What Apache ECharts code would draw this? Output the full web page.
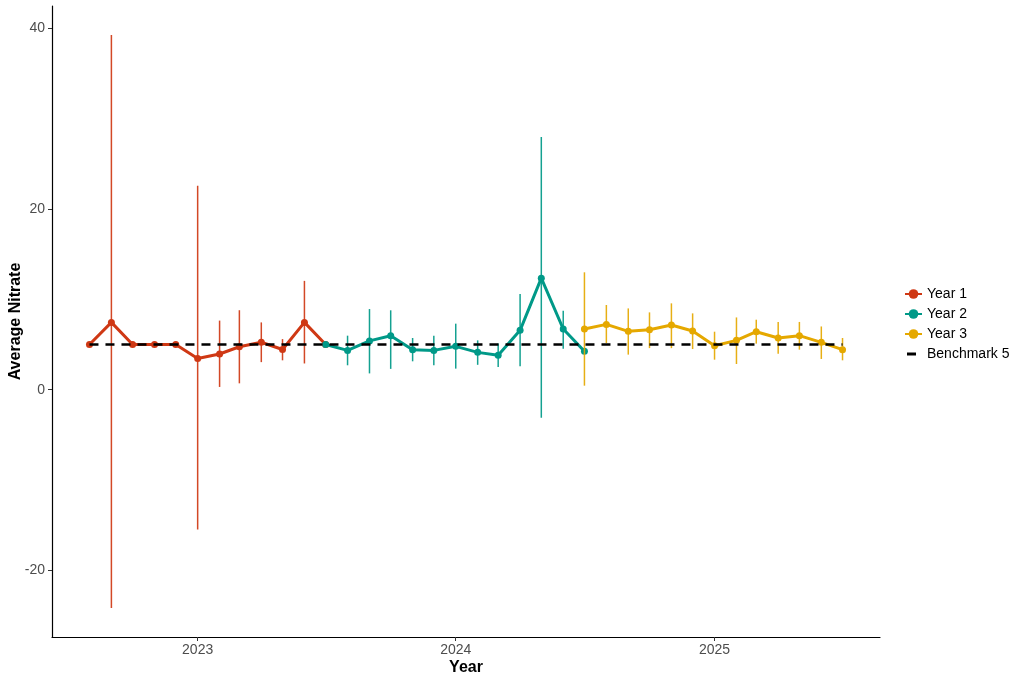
<!DOCTYPE html>
<html>
<head>
<meta charset="utf-8">
<script src="https://cdn.jsdelivr.net/npm/echarts@6/dist/echarts.min.js"></script>
<style>
html,body{margin:0;padding:0;background:#fff;}
#chart{width:1024px;height:683px;}
</style>
</head>
<body>
<div id="chart"></div>
<script>
// ---- Data ----
const year1Dates = ['2022-08-01','2022-09-01','2022-10-01','2022-11-01','2022-12-01','2023-01-01','2023-02-01','2023-03-01','2023-04-01','2023-05-01','2023-06-01','2023-07-01'];
const year1Values = [5.0, 7.45, 5.0, 5.0, 5.0, 3.45, 3.95, 4.75, 5.25, 4.45, 7.45, 5.0];
const year1Low  = [null, -24.2, null, null, null, -15.5, 0.3, 0.7, 3.05, 3.25, 2.9, null];
const year1High = [null, 39.3, null, null, null, 22.6, 7.65, 8.8, 7.45, 5.6, 12.05, null];

const year2Dates = ['2023-07-01','2023-08-01','2023-09-01','2023-10-01','2023-11-01','2023-12-01','2024-01-01','2024-02-01','2024-03-01','2024-04-01','2024-05-01','2024-06-01','2024-07-01'];
const year2Values = [5.0, 4.35, 5.4, 5.98, 4.43, 4.35, 4.8, 4.13, 3.8, 6.57, 12.35, 6.72, 4.25];
const year2Low  = [null, 2.7, 1.8, 2.3, 3.14, 2.7, 2.33, 2.75, 2.5, 2.58, -3.1, 4.54, null];
const year2High = [null, 5.98, 8.93, 8.79, 5.72, 5.98, 7.31, 5.46, 5.1, 10.6, 28.0, 8.75, null];

const year3Dates = ['2024-07-01','2024-08-01','2024-09-01','2024-10-01','2024-11-01','2024-12-01','2025-01-01','2025-02-01','2025-03-01','2025-04-01','2025-05-01','2025-06-01','2025-07-01'];
const year3Values = [6.72, 7.23, 6.46, 6.64, 7.16, 6.5, 4.87, 5.46, 6.42, 5.72, 5.98, 5.24, 4.43];
const year3Low  = [0.44, 5.17, 3.88, 4.6, 4.6, 4.5, 3.32, 2.84, 5.1, 3.99, 4.43, 3.4, 3.25];
const year3High = [13.0, 9.38, 9.0, 8.56, 9.56, 8.45, 6.42, 8.0, 7.75, 7.5, 7.5, 7.0, 5.72];

const benchmarkDates = ['2022-08-01', '2025-07-01'];
const benchmarkValue = 5;

const yTicks = [-20, 0, 20, 40];
const xTickDates = ['2023-01-01', '2024-01-01', '2025-01-01'];

const seriesNames = ['Year 1', 'Year 2', 'Year 3', 'Benchmark 5'];
const colors = ['#CF3814', '#009988', '#E5A800', '#000000'];

// ---- Build ----
const t = d => new Date(d + 'T00:00:00Z').getTime();

function lineData(dates, vals) { return dates.map((d, i) => [t(d), vals[i]]); }
function barData(dates, lo, hi) {
  const out = [];
  dates.forEach((d, i) => { if (lo[i] != null && hi[i] != null) out.push([t(d), lo[i], hi[i]]); });
  return out;
}
function errRender(color) {
  return function (params, api) {
    const p1 = api.coord([api.value(0), api.value(1)]);
    const p2 = api.coord([api.value(0), api.value(2)]);
    return {
      type: 'line',
      shape: { x1: p1[0], y1: p1[1], x2: p2[0], y2: p2[1] },
      style: { stroke: color, lineWidth: 1.5, opacity: 0.92 }
    };
  };
}

const groups = [
  [year1Dates, year1Values, year1Low, year1High],
  [year2Dates, year2Values, year2Low, year2High],
  [year3Dates, year3Values, year3Low, year3High]
];

const series = [];
groups.forEach((g, k) => {
  series.push({
    type: 'line',
    name: seriesNames[k],
    data: lineData(g[0], g[1]),
    symbol: 'circle',
    symbolSize: 7,
    showSymbol: true,
    lineStyle: { width: 3, color: colors[k] },
    itemStyle: { color: colors[k] },
    z: 3 + k * 2
  });
});
groups.forEach((g, k) => {
  series.push({
    type: 'custom',
    name: 'err' + (k + 1),
    renderItem: errRender(colors[k]),
    data: barData(g[0], g[2], g[3]),
    encode: { x: 0, y: [1, 2] },
    itemStyle: { color: colors[k] },
    z: 2 + k * 2,
    silent: true
  });
});
series.push({
  type: 'line',
  name: seriesNames[3],
  data: benchmarkDates.map(d => [t(d), benchmarkValue]),
  symbol: 'none',
  lineStyle: { width: 2.5, color: '#000', type: [9, 7] },
  itemStyle: { color: '#000' },
  z: 10
});

const labelFont = { fontFamily: 'Liberation Sans', fontSize: 14, color: '#4D4D4D' };

const option = {
  backgroundColor: '#fff',
  animation: false,
  grid: { left: 52, right: 144, top: 6, bottom: 46, containLabel: false, outerBoundsMode: 'none' },
  legend: {
    orient: 'vertical',
    left: 899,
    top: 282,
    itemWidth: 17,
    itemHeight: 12,
    itemGap: 6,
    textStyle: { fontFamily: 'Liberation Sans', fontSize: 14, color: '#000', lineHeight: 14 },
    data: [
      { name: seriesNames[0] },
      { name: seriesNames[1] },
      { name: seriesNames[2] },
      { name: seriesNames[3], icon: 'path://M0,0L0,0M17,12L17,12M2,4.5h9v3h-9z', itemStyle: { color: '#000' } }
    ]
  },
  xAxis: {
    type: 'value',
    min: t('2022-06-09'),
    max: t('2025-08-23'),
    name: 'Year',
    nameLocation: 'middle',
    nameGap: 23,
    nameMoveOverlap: false,
    nameTextStyle: { fontFamily: 'Liberation Sans', fontSize: 16, fontWeight: 'bold', color: '#000' },
    axisLine: { show: true, onZero: false, lineStyle: { color: '#000', width: 1.2 } },
    axisTick: { show: true, length: 4, lineStyle: { color: '#333' }, customValues: xTickDates.map(t) },
    axisLabel: Object.assign({
      margin: 6,
      customValues: xTickDates.map(t),
      formatter: v => String(new Date(v).getUTCFullYear())
    }, labelFont),
    splitLine: { show: false }
  },
  yAxis: {
    type: 'value',
    min: -27.4,
    max: 42.5,
    name: 'Average Nitrate',
    nameLocation: 'middle',
    nameGap: 28,
    nameMoveOverlap: false,
    nameTextStyle: { fontFamily: 'Liberation Sans', fontSize: 16, fontWeight: 'bold', color: '#000' },
    axisLine: { show: true, onZero: false, lineStyle: { color: '#000', width: 1.2 } },
    axisTick: { show: true, length: 4, lineStyle: { color: '#333' }, customValues: yTicks },
    axisLabel: Object.assign({ margin: 7, customValues: yTicks }, labelFont),
    splitLine: { show: false }
  },
  series: series
};

const chart = echarts.init(document.getElementById('chart'), null, { renderer: 'canvas' });
chart.setOption(option);
</script>
</body>
</html>
